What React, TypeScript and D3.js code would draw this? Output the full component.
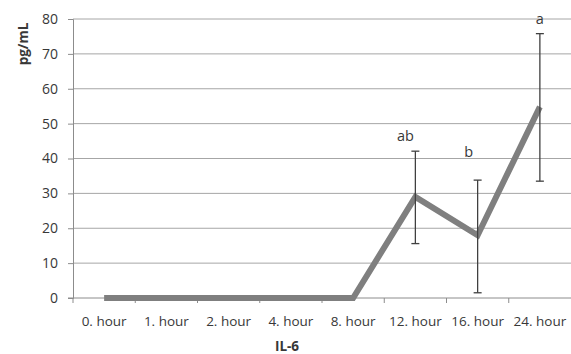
import React, { useRef, useEffect } from 'react';
import * as d3 from 'd3';

// IL-6 over time (pg/mL), mean with error bars and significance letters
const categories = ['0. hour', '1. hour', '2. hour', '4. hour', '8. hour', '12. hour', '16. hour', '24. hour'];
const means = [0, 0, 0, 0, 0, 29, 18, 54.8];
const errLow = [null, null, null, null, null, 15.6, 1.5, 33.5];
const errHigh = [null, null, null, null, null, 42.1, 33.8, 75.8];
const letters = ['', '', '', '', '', 'ab', 'b', 'a'];
const yTicks = [0, 10, 20, 30, 40, 50, 60, 70, 80];

const width = 571;
const height = 354;
const margin = { top: 19, right: 0, bottom: 56, left: 73 };
const font = '"Open Sans", "Liberation Sans", sans-serif';
const textCol = '#383838';

export default function App() {
  const ref = useRef<SVGSVGElement>(null);

  useEffect(() => {
    const svg = d3.select(ref.current);
    svg.selectAll('*').remove();

    const x = d3.scaleBand().domain(categories).range([margin.left, width - margin.right]);
    const y = d3.scaleLinear().domain([0, 80]).range([height - margin.bottom, margin.top]);

    // grid
    svg.append('g')
      .selectAll('line')
      .data(yTicks.filter(t => t > 0))
      .enter()
      .append('line')
      .attr('x1', margin.left)
      .attr('x2', width - margin.right)
      .attr('y1', d => y(d))
      .attr('y2', d => y(d))
      .style('stroke', '#a6a6a6')
      .style('stroke-width', 1);

    const yAxis = svg.append('g')
      .attr('transform', `translate(${margin.left},0)`)
      .call(d3.axisLeft(y).tickValues(yTicks).tickSize(5).tickPadding(10));
    yAxis.select('.domain').style('stroke', '#8c8c8c');
    yAxis.selectAll('line').style('stroke', '#8c8c8c');
    yAxis.selectAll('text').style('font-family', font).style('font-size', '14px').style('fill', textCol);

    // x axis with ticks between categories
    const xg = svg.append('g').attr('transform', `translate(0,${y(0)})`);
    xg.append('line')
      .attr('x1', margin.left - 5).attr('x2', width)
      .style('stroke', '#8c8c8c');
    xg.selectAll('.tick')
      .data(categories)
      .enter()
      .append('line')
      .attr('x1', d => x(d)!)
      .attr('x2', d => x(d)!)
      .attr('y2', 5)
      .style('stroke', '#8c8c8c');
    xg.selectAll('text')
      .data(categories)
      .enter()
      .append('text')
      .attr('x', d => x(d)! + x.bandwidth() / 2)
      .attr('y', 28)
      .attr('text-anchor', 'middle')
      .style('font-family', font)
      .style('font-size', '13.5px')
      .style('fill', textCol)
      .text(d => d);

    const cx = (i: number) => x(categories[i])! + x.bandwidth() / 2;

    // line
    const line = d3.line<number>().x((d, i) => cx(i)).y(d => y(d));
    svg.append('path')
      .datum(means)
      .attr('d', line)
      .style('fill', 'none')
      .style('stroke', '#7f7f7f')
      .style('stroke-width', 6)
      .style('stroke-linejoin', 'miter');

    // error bars
    const eb = svg.append('g');
    means.forEach((m, i) => {
      const lo = errLow[i];
      const hi = errHigh[i];
      if (lo == null || hi == null) return;
      const xc = cx(i);
      eb.append('line').attr('x1', xc).attr('x2', xc).attr('y1', y(lo)).attr('y2', y(hi))
        .style('stroke', '#404040').style('stroke-width', 1.3);
      [lo, hi].forEach(v => {
        eb.append('line').attr('x1', xc - 4).attr('x2', xc + 4).attr('y1', y(v)).attr('y2', y(v))
          .style('stroke', '#404040').style('stroke-width', 1.3);
      });
    });

    // letters
    const letterPos: [number, number][] = [[0, 0], [0, 0], [0, 0], [0, 0], [0, 0], [-10, 46.5], [-9, 42], [0, 80]];
    letters.forEach((l, i) => {
      if (!l) return;
      svg.append('text')
        .attr('x', cx(i) + letterPos[i][0])
        .attr('y', y(letterPos[i][1]) + 5)
        .attr('text-anchor', 'middle')
        .style('font-family', font)
        .style('font-size', '14.5px')
        .style('fill', textCol)
        .text(l);
    });

    // axis titles
    svg.append('text')
      .attr('transform', `translate(28,${44}) rotate(-90)`)
      .attr('text-anchor', 'middle')
      .style('font-family', font)
      .style('font-size', '13.5px')
      .style('font-weight', 'bold')
      .style('fill', textCol)
      .text('pg/mL');

    svg.append('text')
      .attr('x', 287)
      .attr('y', 351)
      .attr('text-anchor', 'middle')
      .style('font-family', font)
      .style('font-size', '13.5px')
      .style('font-weight', 'bold')
      .style('fill', textCol)
      .text('IL-6');
  }, []);

  return (
    <svg
      ref={ref}
      width={width}
      height={height}
      style={{ position: 'absolute', left: 0, top: 0, background: '#fff' }}
    />
  );
}
